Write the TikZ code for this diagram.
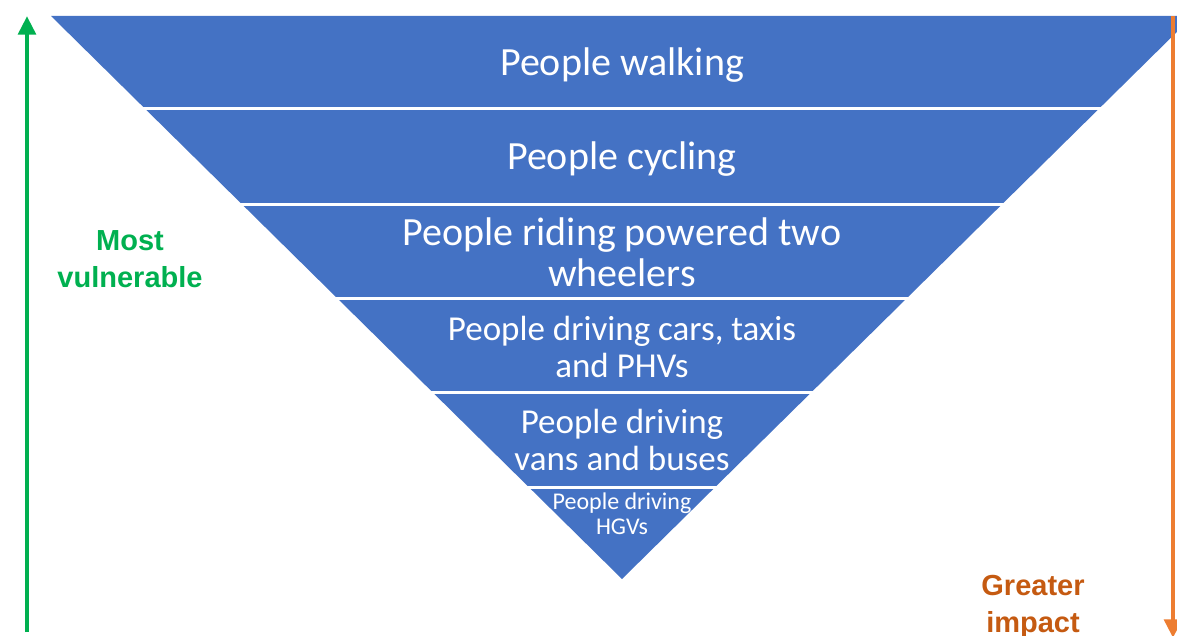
\documentclass[tikz,border=0pt]{standalone}
\usepackage{fontspec}
\setmainfont{Carlito}
\newfontfamily\arrowfont{Liberation Sans}
\usetikzlibrary{arrows.meta}
\definecolor{pyrblue}{RGB}{68,114,196}
\definecolor{vulgreen}{RGB}{0,176,80}
\definecolor{impactline}{RGB}{237,125,49}
\definecolor{impacttext}{RGB}{197,90,17}
\begin{document}
\begin{tikzpicture}[x=0.75pt,y=-0.75pt,
    band/.style={text=white,align=center,inner sep=0pt,font=\fontsize{30}{30.75}\selectfont},
    bandmid/.style={band,font=\fontsize{26.25}{27.75}\selectfont},
    bandsmall/.style={band,font=\fontsize{18}{18.75}\selectfont},
    sidetext/.style={align=center,inner sep=0pt,font=\arrowfont\bfseries\fontsize{21.75}{27.75}\selectfont}]
    \useasboundingbox (0,0) rectangle (1177,635);

    % inverted pyramid
    \begin{scope}
        \clip (0,0) rectangle (1177,635);
        \fill [pyrblue] (51,16) -- (1193,16) -- (622,579) -- cycle;
        \foreach \y in {108.5,204,298,392.5,487}
            \draw [white, line width=2.25pt] (0,\y) -- (1177,\y);
    \end{scope}

    \node[band] (walking) at (622,65) {People walking};
    \node[band] (cycling) at (622,159) {People cycling};
    \node[band] (powered) at (622,252) {People riding powered two\\wheelers};
    \node[bandmid] (cars) at (622,347) {People driving cars, taxis\\and PHVs};
    \node[bandmid] (vans) at (622,440) {People driving\\vans and buses};
    \node[bandsmall] (hgv) at (622,514) {People driving\\HGVs};

    % side arrows
    \coordinate (vulbot) at (27,632);
    \coordinate (vultop) at (27,16);
    \draw [vulgreen, line width=3.5pt, -{Triangle[length=14pt,width=13pt]}] (vulbot) -- (vultop);
    \node[sidetext, text=vulgreen] (most) at (130,259) {Most\\vulnerable};

    \begin{scope}
        \clip (0,0) rectangle (1177,635);
        \coordinate (imptop) at (1173,16);
        \coordinate (impbot) at (1173,638);
        \draw [impactline, line width=3.5pt, -{Triangle[length=14pt,width=13pt]}] (imptop) -- (impbot);
    \end{scope}
    \node[sidetext, text=impacttext] (greater) at (1033,607) {Greater\\impact};

\end{tikzpicture}
\end{document}
